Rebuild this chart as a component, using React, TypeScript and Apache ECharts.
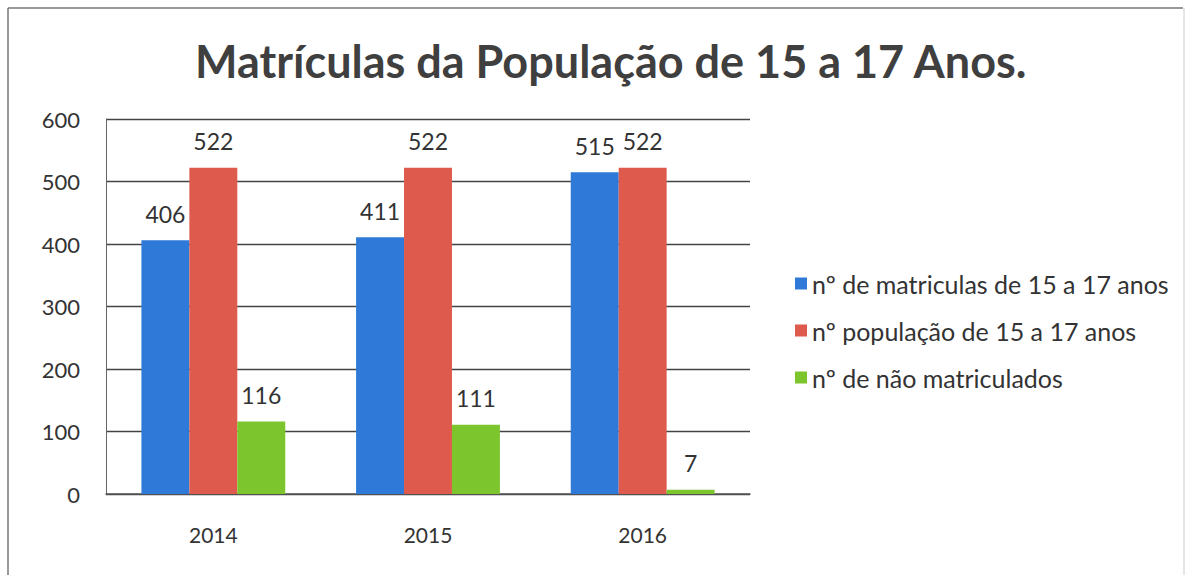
import React, { useEffect, useRef } from "react";
import * as echarts from "echarts";

const categories = ["2014", "2015", "2016"];
const matriculas = [406, 411, 515];
const populacao = [522, 522, 522];
const naoMatriculados = [116, 111, 7];
const seriesNames = [
  "nº de matriculas de 15 a 17 anos",
  "nº população de 15 a 17 anos",
  "nº de não matriculados",
];
const colors = ["#2F7AD8", "#DE5A4D", "#7DC52C"];
const titleText = "Matrículas da População de 15 a 17 Anos.";

const FONT = "Lato, 'Open Sans', 'DejaVu Sans', sans-serif";

export default function App() {
  const ref = useRef<HTMLDivElement>(null);
  useEffect(() => {
    if (!ref.current) return;
    const chart = echarts.init(ref.current, undefined, { renderer: "svg" });
    const values = [matriculas, populacao, naoMatriculados];
    chart.setOption({
      animation: false,
      backgroundColor: "#ffffff",
      title: {
        text: titleText,
        left: 190,
        top: 33,
        textStyle: {
          fontFamily: FONT,
          fontSize: 45,
          fontWeight: "bold",
          color: "#3f3f3f",
        },
      },
      legend: {
        orient: "vertical",
        left: 790,
        top: 266,
        itemGap: 22,
        itemWidth: 12,
        itemHeight: 12,
        icon: "rect",
        textStyle: { fontFamily: FONT, fontSize: 25, color: "#333333" },
        data: seriesNames,
      },
      grid: { left: 106, right: 439, top: 119, bottom: 81 },
      xAxis: {
        type: "category",
        data: categories,
        axisTick: { show: false },
        axisLine: { lineStyle: { color: "#555555", width: 1.5 } },
        axisLabel: {
          fontFamily: FONT,
          fontSize: 21,
          color: "#333333",
          margin: 30,
        },
      },
      yAxis: {
        type: "value",
        min: 0,
        max: 600,
        interval: 100,
        axisLine: { show: true, lineStyle: { color: "#666666" } },
        axisTick: { show: false },
        splitLine: { lineStyle: { color: "#444444", width: 1.3 } },
        axisLabel: {
          fontFamily: FONT,
          fontSize: 22,
          color: "#333333",
          margin: 26,
        },
      },
      series: seriesNames.map((name, i) => ({
        name,
        type: "bar",
        data: values[i],
        barGap: "0%",
        barCategoryGap: "33%",
        itemStyle: { color: colors[i] },
        label: {
          show: true,
          position: "top",
          distance: 15,
          fontFamily: FONT,
          fontSize: 23,
          color: "#333333",
        },
      })),
      graphic: [
        {
          type: "line",
          shape: { x1: 8, y1: 8, x2: 1183, y2: 8 },
          style: { stroke: "#777777", lineWidth: 1.5 },
        },
        {
          type: "line",
          shape: { x1: 8, y1: 8, x2: 8, y2: 575 },
          style: { stroke: "#777777", lineWidth: 1.5 },
        },
        {
          type: "line",
          shape: { x1: 1184, y1: 8, x2: 1184, y2: 575 },
          style: { stroke: "#cccccc", lineWidth: 1 },
        },
      ],
    });
    return () => chart.dispose();
  }, []);
  return (
    <div
      ref={ref}
      style={{ position: "fixed", left: 0, top: 0, width: 1189, height: 575 }}
    />
  );
}
